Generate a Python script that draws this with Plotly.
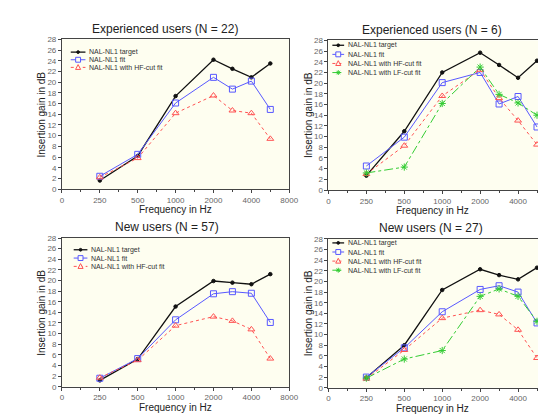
import numpy as np
import plotly.graph_objects as go

# ---------------- data ----------------
freqs = [250, 500, 1000, 2000, 3000, 4000, 6000]
tick_freqs = [0, 250, 500, 1000, 2000, 4000, 8000]
tick_labels = ["0", "250", "500", "1000", "2000", "4000", "8000"]

panel_titles = ["Experienced users (N = 22)", "Experienced users (N = 6)",
                "New users (N = 57)", "New users (N = 27)"]

exp22_target = [1.6, 6.2, 17.4, 24.2, 22.5, 20.9, 23.5]
exp22_fit    = [2.4, 6.5, 16.1, 20.9, 18.7, 20.2, 14.9]
exp22_hf     = [2.2, 5.8, 14.2, 17.5, 14.7, 14.2, 9.4]

exp6_target = [2.7, 11.0, 22.0, 25.7, 23.4, 21.0, 24.2]
exp6_fit    = [4.5, 9.9, 20.1, 22.0, 16.1, 17.5, 11.8]
exp6_hf     = [3.0, 8.3, 17.6, 22.5, 17.2, 13.0, 8.5]
exp6_lf     = [3.2, 4.3, 16.2, 23.0, 17.9, 16.3, 14.0]

new57_target = [1.2, 5.2, 15.1, 19.9, 19.6, 19.3, 21.2]
new57_fit    = [1.6, 5.3, 12.6, 17.5, 17.9, 17.6, 12.1]
new57_hf     = [1.7, 5.0, 11.5, 13.2, 12.4, 10.8, 5.3]

new27_target = [1.9, 8.0, 18.4, 22.3, 21.2, 20.4, 22.6]
new27_fit    = [2.0, 7.5, 14.3, 18.5, 19.2, 18.0, 12.2]
new27_hf     = [1.7, 7.1, 13.1, 14.6, 13.8, 10.9, 5.6]
new27_lf     = [1.8, 5.4, 7.0, 17.2, 18.6, 17.2, 12.5]

# axis scale: octave ticks evenly spaced, intermediate frequencies interpolated
tick_pos = list(range(len(tick_freqs)))
def fpos(f):
    return np.interp(f, tick_freqs, tick_pos)
xs = [float(fpos(f)) for f in freqs]

# ---------------- styles ----------------
BLACK = "#111111"
BLUE = "#5858ff"
RED = "#ff5252"
GREEN = "#33cc33"
BG = "#fefef0"
FONT = "Liberation Sans, Arial, sans-serif"

styles = {
    "target": dict(name="NAL-NL1 target", color=BLACK, dash="solid", symbol="circle", msize=3.5, lw=1.3),
    "fit": dict(name="NAL-NL1 fit", color=BLUE, dash="solid", symbol="square-open", msize=6, lw=1.0),
    "hf": dict(name="NAL-NL1 with HF-cut fit", color=RED, dash="dot", symbol="triangle-up-open", msize=6, lw=1.0),
    "lf": dict(name="NAL-NL1 with LF-cut fit", color=GREEN, dash="dashdot", symbol="asterisk-open", msize=6, lw=1.0),
}

panels = [
    [("target", exp22_target), ("fit", exp22_fit), ("hf", exp22_hf)],
    [("target", exp6_target), ("fit", exp6_fit), ("hf", exp6_hf), ("lf", exp6_lf)],
    [("target", new57_target), ("fit", new57_fit), ("hf", new57_hf)],
    [("target", new27_target), ("fit", new27_fit), ("hf", new27_hf), ("lf", new27_lf)],
]

W, H = 546, 417
# plot areas in pixels (left, right, top, bottom)
areas = [(53, 285, 28, 181), (325, 546, 29, 182), (53, 285, 231, 383), (325, 546, 232, 384)]
xranges = [[0, 6], [0, (546 - 325) / 38.7], [0, 6], [0, (546 - 325) / 38.7]]
# legend layout per panel: (x offset of sample line, line length, first row offset, row spacing)
legend_layout = [(9, 15, 13, 7.8), (4, 12, 5, 9.3), (12, 14, 12, 8.5), (4, 12, 4, 9.3)]
# title centres (pixels)
title_cx = [158, 431, 160, 430]

def px(x):
    return x / W

def py(y):
    return 1 - y / H

fig = go.Figure()
shapes = []
annots = []

for i, (series, area) in enumerate(zip(panels, areas)):
    k = "" if i == 0 else str(i + 1)
    for key, vals in series:
        s = styles[key]
        fig.add_trace(go.Scatter(
            x=xs, y=vals, mode="lines+markers", name=s["name"], showlegend=False,
            line=dict(color=s["color"], dash=s["dash"], width=s["lw"]),
            marker=dict(symbol=s["symbol"], size=s["msize"], color=s["color"],
                        line=dict(color=s["color"], width=1)),
            xaxis="x" + k, yaxis="y" + k,
        ))
    l, r, t, b = area
    dx = [l / W, r / W]
    dy = [1 - b / H, 1 - t / H]
    axcommon = dict(showgrid=False, zeroline=False, showline=True, linecolor="#444",
                    linewidth=1, mirror=True, ticks="outside", ticklen=3, tickcolor="#444",
                    tickfont=dict(family=FONT, size=8, color="#666"))
    fig.update_layout(**{
        "xaxis" + k: dict(domain=dx, range=xranges[i], tickmode="array",
                          tickvals=tick_pos, ticktext=tick_labels,
                          anchor="y" + k,
                          minor=dict(tickvals=[p + 0.5 for p in tick_pos[:-1]],
                                     ticks="outside", ticklen=2, tickcolor="#444"),
                          **axcommon),
        "yaxis" + k: dict(domain=dy, range=[0, 28], tickmode="array",
                          tickvals=list(range(0, 29, 2)), anchor="x" + k, **axcommon),
    })
    xc = (l + (r if i % 2 == 0 else 538)) / 2
    annots.append(dict(text=panel_titles[i], x=px(title_cx[i]), y=py(t - 11),
                       xref="paper", yref="paper", showarrow=False,
                       xanchor="center", yanchor="middle",
                       font=dict(family=FONT, size=12, color="#222")))
    annots.append(dict(text="Frequency in Hz", x=px(xc), y=py(b + 21),
                       xref="paper", yref="paper", showarrow=False,
                       xanchor="center", yanchor="middle",
                       font=dict(family=FONT, size=10, color="#222")))
    annots.append(dict(text="Insertion gain in dB", x=px(l - 21), y=py((t + b) / 2),
                       xref="paper", yref="paper", showarrow=False,
                       xanchor="center", yanchor="middle", textangle=-90,
                       font=dict(family=FONT, size=10, color="#222")))

    # ---- legend (drawn as layout decoration) ----
    ox, ln, oy, sp = legend_layout[i]
    for j, (key, _) in enumerate(series):
        s = styles[key]
        yy = t + oy + j * sp
        x0, x1 = l + ox, l + ox + ln
        xm = (x0 + x1) / 2
        shapes.append(dict(type="line", xref="paper", yref="paper",
                           x0=px(x0), x1=px(x1), y0=py(yy), y1=py(yy),
                           line=dict(color=s["color"], width=s["lw"], dash=s["dash"])))
        if key == "target":
            rr = 1.4
            shapes.append(dict(type="circle", xref="paper", yref="paper",
                               x0=px(xm - rr), x1=px(xm + rr), y0=py(yy + rr), y1=py(yy - rr),
                               fillcolor=s["color"], line=dict(color=s["color"], width=1)))
        elif key == "fit":
            rr = 2.5
            shapes.append(dict(type="rect", xref="paper", yref="paper",
                               x0=px(xm - rr), x1=px(xm + rr), y0=py(yy + rr), y1=py(yy - rr),
                               fillcolor=BG, line=dict(color=s["color"], width=1)))
        elif key == "hf":
            rr = 2.6
            path = "M {} {} L {} {} L {} {} Z".format(
                px(xm - rr), py(yy + rr * 0.8), px(xm + rr), py(yy + rr * 0.8), px(xm), py(yy - rr * 1.1))
            shapes.append(dict(type="path", xref="paper", yref="paper", path=path,
                               fillcolor=BG, line=dict(color=s["color"], width=1)))
        else:
            rr = 2.5
            for (ax, ay) in [(1, 0), (0, 1), (0.7, 0.7), (0.7, -0.7)]:
                shapes.append(dict(type="line", xref="paper", yref="paper",
                                   x0=px(xm - rr * ax), x1=px(xm + rr * ax),
                                   y0=py(yy - rr * ay), y1=py(yy + rr * ay),
                                   line=dict(color=s["color"], width=1)))
        annots.append(dict(text=s["name"], x=px(x1 + 1.5), y=py(yy), xref="paper", yref="paper",
                           showarrow=False, xanchor="left", yanchor="middle",
                           font=dict(family=FONT, size=7, color="#333")))

fig.update_layout(width=W, height=H, margin=dict(l=0, r=0, t=0, b=0),
                  plot_bgcolor=BG, paper_bgcolor="white", showlegend=False,
                  font=dict(family=FONT), shapes=shapes, annotations=annots)

fig.write_html("out.html")
